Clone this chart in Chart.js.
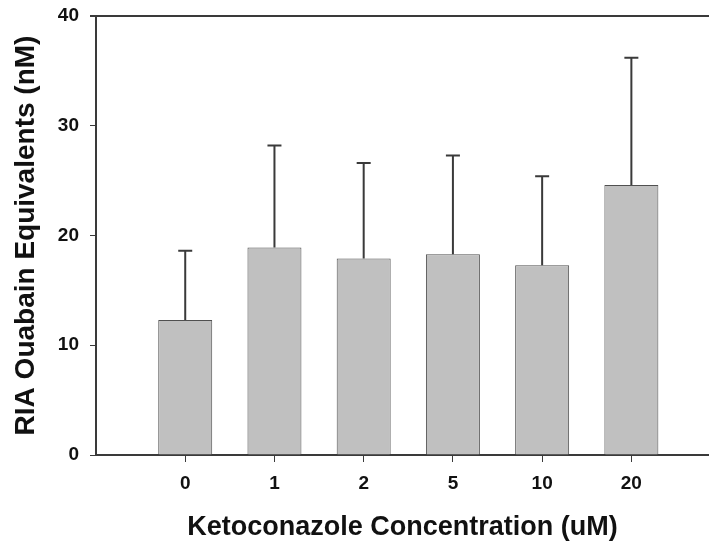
<!DOCTYPE html>
<html>
<head>
<meta charset="utf-8">
<title>RIA Ouabain Equivalents</title>
<script src="https://cdn.jsdelivr.net/npm/chart.js@4.4.1/dist/chart.umd.min.js"></script>
<style>
    html, body { margin: 0; padding: 0; background: #fff; }
    canvas { display: block; }
</style>
</head>
<body>
<canvas id="ouabainChart" width="709" height="544"></canvas>
<script>
const concentrations = ['0', '1', '2', '5', '10', '20'];
const meanValues = [12.3, 18.9, 17.9, 18.3, 17.3, 24.6];
const sdValues = [6.3, 9.3, 8.7, 9.0, 8.1, 11.6];
const yTicks = [0, 10, 20, 30, 40];

const axisColor = '#3a3a3a';
const textColor = '#111';
const fontFamily = '"Liberation Sans", Arial, sans-serif';

// upper error bars and the top frame line
const errorBarPlugin = {
    id: 'errorBars',
    afterDatasetsDraw(chart) {
        const { ctx, chartArea, scales } = chart;
        ctx.save();
        ctx.strokeStyle = axisColor;
        ctx.lineWidth = 2;
        meanValues.forEach((mean, i) => {
            const x = scales.x.getPixelForValue(i);
            const yTop = scales.y.getPixelForValue(mean);
            const yErr = scales.y.getPixelForValue(mean + sdValues[i]);
            ctx.beginPath();
            ctx.moveTo(x, yTop);
            ctx.lineTo(x, yErr);
            ctx.moveTo(x - 7, yErr);
            ctx.lineTo(x + 7, yErr);
            ctx.stroke();
        });
        ctx.beginPath();
        ctx.moveTo(chartArea.left - 6, chartArea.top);
        ctx.lineTo(chartArea.right, chartArea.top);
        ctx.stroke();
        ctx.restore();
    }
};

new Chart(document.getElementById('ouabainChart'), {
    type: 'bar',
    data: {
        datasets: [{
            data: meanValues.map((v, i) => ({ x: i, y: v })),
            backgroundColor: '#c0c0c0',
            borderColor: '#505050',
            borderWidth: 1,
            barPercentage: 0.605,
            categoryPercentage: 1
        }]
    },
    options: {
        responsive: false,
        animation: false,
        devicePixelRatio: 1,
        layout: { padding: { left: 9, top: 16, right: 0, bottom: 0 } },
        plugins: {
            legend: { display: false },
            tooltip: { enabled: false }
        },
        scales: {
            x: {
                type: 'linear',
                offset: false,
                min: -1,
                max: 5.87,
                afterBuildTicks: axis => {
                    axis.ticks = concentrations.map((_, i) => ({ value: i }));
                },
                afterFit: scale => {
                    scale.height = 89;
                    scale.paddingLeft = 0;
                    scale.paddingRight = 0;
                },
                grid: {
                    offset: false,
                    drawOnChartArea: false,
                    drawTicks: true,
                    tickLength: 7,
                    tickColor: axisColor,
                    tickWidth: 1
                },
                border: { color: axisColor, width: 2 },
                ticks: {
                    padding: 10,
                    color: textColor,
                    font: { family: fontFamily, size: 19, weight: 'bold' },
                    callback: value => concentrations[value] ?? ''
                },
                title: {
                    display: true,
                    text: 'Ketoconazole Concentration (uM)',
                    color: textColor,
                    font: { family: fontFamily, size: 27, weight: 'bold' },
                    padding: { top: 0, bottom: 0 }
                }
            },
            y: {
                min: 0,
                max: 40,
                afterBuildTicks: axis => {
                    axis.ticks = yTicks.map(v => ({ value: v }));
                },
                afterFit: scale => {
                    scale.width = 87;
                    scale.paddingTop = 0;
                    scale.paddingBottom = 0;
                },
                grid: {
                    drawOnChartArea: false,
                    drawTicks: true,
                    tickLength: 6,
                    tickColor: axisColor,
                    tickWidth: 1
                },
                border: { color: axisColor, width: 2 },
                ticks: {
                    padding: 11,
                    color: textColor,
                    font: { family: fontFamily, size: 19, weight: 'bold' }
                },
                title: {
                    display: true,
                    text: 'RIA Ouabain Equivalents (nM)',
                    color: textColor,
                    font: { family: fontFamily, size: 28, weight: 'bold' },
                    padding: { top: 0, bottom: 0 }
                }
            }
        }
    },
    plugins: [errorBarPlugin]
});
</script>
</body>
</html>
